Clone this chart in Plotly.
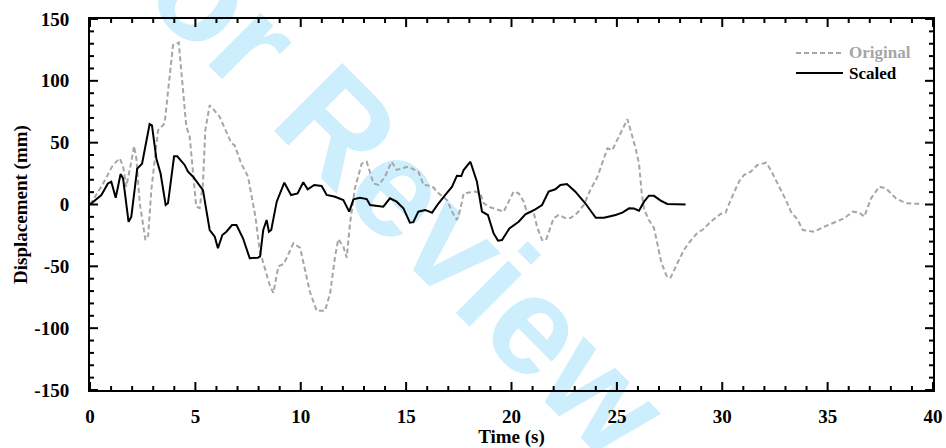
import plotly.graph_objects as go

# Ground displacement histories (time in s, displacement in mm)
time_original = [0, 0.54, 1.09, 1.41, 1.57, 1.72, 1.96, 2.09, 2.2, 2.36, 2.63, 2.76, 2.91, 3.23, 3.54,
                 3.78, 3.94, 4.21, 4.33, 4.57, 4.73, 4.89, 5.04, 5.2, 5.36, 5.47, 5.68, 6.15, 6.39, 6.71,
                 6.86, 7.18, 7.5, 7.7, 7.85, 8.05, 8.22, 8.54, 8.7, 8.94, 9.2, 9.65, 9.97, 10.2, 10.44,
                 10.76, 11.15, 11.39, 11.63, 11.78, 12.02, 12.18, 12.34, 12.57, 12.89, 13.13, 13.45, 13.7,
                 14.0, 14.31, 14.55, 15.1, 15.58, 15.83, 16.23, 16.54, 16.94, 17.18, 17.41, 17.57, 17.73,
                 18.28, 18.52, 18.68, 19.0, 19.63, 19.95, 20.1, 20.34, 20.58, 20.74, 21.05, 21.21, 21.45,
                 21.64, 21.84, 22.0, 22.24, 22.56, 22.8, 23.11, 23.43, 23.74, 24.08, 24.39, 24.55, 24.78,
                 25.02, 25.26, 25.5, 25.65, 25.89, 26.05, 26.18, 26.29, 26.52, 26.76, 26.92, 27.12, 27.39,
                 27.55, 27.87, 28.18, 28.42, 28.8, 29.1, 29.45, 29.92, 30.16, 30.4, 30.79, 31.03, 31.35,
                 31.67, 32.08, 32.3, 32.63, 33.02, 33.26, 33.58, 33.82, 34.37, 34.84, 35.4, 35.8, 36.19,
                 36.5, 36.74, 37.06, 37.45, 37.77, 38.24, 38.72, 39.5]
disp_original = [0, 14.4, 32, 37.3, 31, 14.4, 34.6, 47.3, 37, 1, -28.7, -25, 11.7, 60, 65.6,
                 100.6, 129, 131, 110, 63, 55, 25, -1.8, -2.9, 17, 60, 80.4, 71, 61.6, 49.5,
                 48, 33, 22.5, 5, -10, -37, -47.5, -66, -71.5, -50, -48, -31.4, -35, -53, -71,
                 -86, -86, -72, -42, -28, -34, -43, -15, 13, 33, 34.6, 17, 15.8,
                 22.5, 34.6, 28, 30.6, 26.5, 15.8, 15, 9, 3.6, -5.8, -12.5, -4, 9,
                 10.4, 9, 1, -2.3, -5.8, 5, 10.4, 9, 2.3, -6.6, -6, -17.9, -28.7,
                 -28.7, -18, -11, -8.5, -11, -11, -7, -0.4, 11.7, 22.5, 38.6, 45.4, 44,
                 52, 60, 68.9, 60, 45.4, 33, 9, -4, -12.5, -19, -31.4, -47.5, -59,
                 -59, -47.5, -36.8, -31, -23.3, -20, -13.9, -7.7, -6.6, 3.6, 18.4, 23.8, 26.5,
                 32, 33.8, 28, 17, 3.6, -5.8, -12.5, -20.6, -22, -18, -13.9, -11, -5.8,
                 -6.5, -9.8, 5, 14.4, 13, 5, 1, 0.4]

time_scaled = [0, 0.54, 0.85, 1.01, 1.22, 1.45, 1.57, 1.83, 1.96, 2.24, 2.47, 2.83, 2.94, 3.15, 3.35,
               3.59, 3.7, 3.99, 4.14, 4.49, 4.65, 4.89, 5.36, 5.68, 5.92, 6.07, 6.28, 6.47, 6.74, 6.95,
               7.26, 7.58, 7.97, 8.07, 8.22, 8.38, 8.49, 8.6, 8.86, 9.22, 9.54, 9.85, 10.12, 10.33, 10.64,
               10.99, 11.23, 11.63, 12.02, 12.3, 12.5, 12.81, 13.13, 13.29, 13.92, 14.23, 14.55, 14.87,
               15.18, 15.34, 15.58, 15.9, 16.23, 16.54, 16.86, 17.18, 17.41, 17.62, 17.73, 18.05, 18.36,
               18.6, 18.88, 19.15, 19.36, 19.55, 19.9, 20.34, 20.66, 21.13, 21.45, 21.76, 22.08, 22.32,
               22.63, 23.03, 23.5, 23.82, 24.0, 24.39, 24.63, 24.94, 25.26, 25.58, 25.81, 26.05, 26.29,
               26.52, 26.76, 27.08, 27.39, 28.26]
disp_scaled = [0, 7.7, 17, 18.5, 5.5, 24.6, 21, -14, -9.8, 29, 33, 65, 64, 37, 25,
               -0.4, 1, 39, 39, 32, 26.5, 22.5, 11.7, -20.6, -26, -35.4, -24.7, -22, -16.6, -16.6,
               -27.3, -43.5, -43, -42, -20.6, -12.5, -22, -20.6, 2.3, 17.6, 7.7, 9, 18, 12.3, 15.8,
               15, 7.7, 6.3, 3.6, -5.8, 4.2, 5.5, 4.4, -0.4, -1.8, 5, 2.3, -3,
               -14.7, -14.3, -5.8, -4.4, -6.6, 1, 7.7, 14.4, 23.3, 23, 27.9, 34.6, 18.4,
               -5.8, -8.5, -23.3, -29.3, -28.7, -19.3, -13.9, -7.9, -3.9, -0.4, 10.4, 12.3, 15.8,
               16.6, 10.4, 1, -6.6, -10.7, -10.7, -9.8, -8.5, -6.6, -3.1, -3.3, -5, 2.3,
               7.1, 7, 3.1, 0.4, 0]

x_ticks = [0, 5, 10, 15, 20, 25, 30, 35, 40]
y_ticks = [-150, -100, -50, 0, 50, 100, 150]
y_tick_labels = ["-150", "-100", "-50", "0", "50", "100", "150"]

series_names = ["Original", "Scaled"]

SERIF = "Liberation Serif"
GREY = "#a6a6a6"
CLEAR = "rgba(0,0,0,0)"
X_MINOR_STEP = 1
Y_MINOR_STEP = 10
MAJOR_LEN, MINOR_LEN = 8, 4

fig = go.Figure()
fig.add_trace(go.Scatter(
    x=time_original, y=disp_original, mode="lines", name=series_names[0],
    line=dict(color=GREY, width=2, dash="5px,3px"), showlegend=False,
))
fig.add_trace(go.Scatter(
    x=time_scaled, y=disp_scaled, mode="lines", name=series_names[1],
    line=dict(color="black", width=2), showlegend=False,
))

label_font = dict(family=SERIF, size=19, color="black", weight="bold")
x_range = [x_ticks[0], x_ticks[-1]]
y_range = [y_ticks[0], y_ticks[-1]]

# axes: boxed frame, labels and titles (clear outside ticks only space the labels)
fig.update_layout(
    xaxis=dict(
        range=x_range, tickmode="linear", tick0=x_ticks[0], dtick=x_ticks[1] - x_ticks[0],
        showline=True, linewidth=2, linecolor="black", mirror=True,
        ticks="outside", ticklen=8, tickcolor=CLEAR,
        showgrid=False, zeroline=False, automargin=False, tickfont=label_font,
        title=dict(text="Time (s)", standoff=0, font=label_font),
    ),
    yaxis=dict(
        range=y_range, tickmode="array", tickvals=y_ticks, ticktext=y_tick_labels,
        showline=True, linewidth=2, linecolor="black", mirror=True,
        ticks="outside", ticklen=15, tickcolor=CLEAR,
        showgrid=False, zeroline=False, automargin=False, tickfont=label_font,
        title=dict(text="Displacement (mm)", standoff=2, font=label_font),
    ),
)

# inward tick marks on all four sides, placed on the axis scales
shapes = []
tick_line = dict(color="black", width=2)
n_x = int(round((x_range[1] - x_range[0]) / X_MINOR_STEP))
for i in range(n_x + 1):
    xv = x_range[0] + i * X_MINOR_STEP
    length = MAJOR_LEN if xv in x_ticks else MINOR_LEN
    for anchor, sign in ((0, 1), (1, -1)):
        shapes.append(dict(type="line", xref="x", yref="paper", x0=xv, x1=xv,
                           ysizemode="pixel", yanchor=anchor, y0=0, y1=sign * length,
                           line=tick_line, layer="above"))
n_y = int(round((y_range[1] - y_range[0]) / Y_MINOR_STEP))
for i in range(n_y + 1):
    yv = y_range[0] + i * Y_MINOR_STEP
    length = MAJOR_LEN if yv in y_ticks else MINOR_LEN
    for anchor, sign in ((0, 1), (1, -1)):
        shapes.append(dict(type="line", xref="paper", yref="y", y0=yv, y1=yv,
                           xsizemode="pixel", xanchor=anchor, x0=0, x1=sign * length,
                           line=tick_line, layer="above"))

# diagonal watermark behind the curves
shapes.append(dict(
    type="rect", xref="paper", yref="paper", x0=0.35, x1=0.357, y0=0.619, y1=0.631,
    line=dict(width=0), fillcolor=CLEAR, layer="below",
    label=dict(text="For Review", textangle=45, textposition="middle center",
               font=dict(family="Liberation Sans", size=140, color="#cdeefd", weight="bold")),
))

# legend: line samples with coloured labels, upper right
legend_rows = [(0.9084, dict(color=GREY, width=2, dash="5px,3px"), GREY),
               (0.8544, dict(color="black", width=2), "black")]
for name, (yp, line_style, text_color) in zip(series_names, legend_rows):
    shapes.append(dict(type="line", xref="paper", yref="paper", x0=0.8375, x1=0.8932,
                       y0=yp, y1=yp, line=line_style))
    fig.add_annotation(xref="paper", yref="paper", x=0.898, y=yp, text=name,
                       showarrow=False, xanchor="left", yanchor="middle",
                       font=dict(family=SERIF, size=17, color=text_color, weight="bold"))

fig.update_layout(
    shapes=shapes,
    width=946, height=448,
    margin=dict(l=90, r=13, t=19, b=58),
    paper_bgcolor="white", plot_bgcolor=CLEAR,
    showlegend=False,
)

fig.write_html("out.html")
